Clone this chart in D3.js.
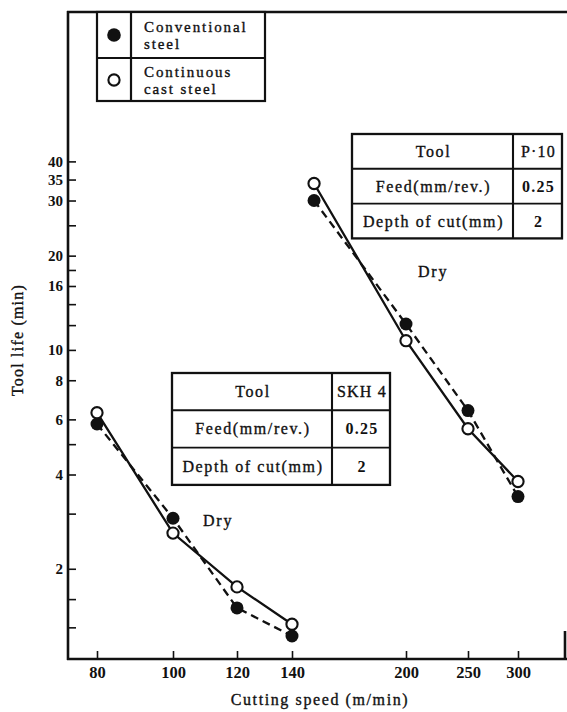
<!DOCTYPE html>
<html>
<head>
<meta charset="utf-8">
<script src="https://cdn.jsdelivr.net/npm/d3@7"></script>
<style>
  html, body { margin: 0; padding: 0; background: #fff; }
  svg { display: block; }
  text { font-family: "Liberation Serif", "DejaVu Serif", serif; fill: #111; }
  .heavy { stroke: #111; stroke-width: 0.35px; }
</style>
</head>
<body>
<svg id="chart" width="567" height="712"></svg>
<script>
// ---- data -------------------------------------------------------------
const speedTicks = [80, 100, 120, 140, 200, 250, 300];
const lifeTicksLabelled = [2, 4, 6, 8, 10, 16, 20, 30, 35, 40];
const lifeTicksMinor = [1.3, 1.6, 3, 5, 12, 14, 18, 25];

// SKH 4 high-speed steel tool
const skhSpeed = [80, 100, 120, 140];
const skhConventional = [5.8, 2.9, 1.5, 1.22];
const skhContinuous = [6.3, 2.6, 1.75, 1.33];

// P 10 carbide tool
const p10Speed = [150, 200, 250, 300];
const p10Conventional = [30, 12.1, 6.4, 3.4];
const p10Continuous = [34, 10.7, 5.6, 3.8];

const legendLabels = [["Conventional", "steel"], ["Continuous", "cast steel"]];
const skhTable = [["Tool", "SKH 4"], ["Feed(mm/rev.)", "0.25"], ["Depth of cut(mm)", "2"]];
const p10Table = [["Tool", "P\u00b710"], ["Feed(mm/rev.)", "0.25"], ["Depth of cut(mm)", "2"]];
const conditionLabel = "Dry";

// ---- layout -----------------------------------------------------------
const frame = { left: 68, right: 565, top: 12, bottom: 659 };
// positions of the speed tick marks along the printed logarithmic axis
const speedTickX = [97, 173, 237, 292, 406, 468, 518];

const svg = d3.select("#chart");

const x = d3.scaleLog().domain(speedTicks).range(speedTickX);
const y = d3.scaleLog().domain([1.03, 120]).range([frame.bottom, frame.top]);

const ink = "#111";

// ---- axes -------------------------------------------------------------
const yAxis = d3.axisLeft(y)
  .tickValues(lifeTicksLabelled.concat(lifeTicksMinor))
  .tickFormat(d => lifeTicksLabelled.includes(d) ? String(d) : "")
  .tickSizeInner(-8).tickSizeOuter(0).tickPadding(5);

const gy = svg.append("g").attr("transform", `translate(${frame.left},0)`).call(yAxis);
gy.select(".domain").remove();
gy.selectAll(".tick line").attr("stroke", ink).attr("stroke-width", 1.6);
gy.selectAll(".tick text")
  .attr("font-family", '"Liberation Serif", serif')
  .attr("font-size", 15).attr("font-weight", "bold").attr("fill", ink);

const xAxis = d3.axisBottom(x)
  .tickValues(speedTicks)
  .tickFormat(d3.format("d"))
  .tickSizeInner(-8).tickSizeOuter(0).tickPadding(7);

const gx = svg.append("g").attr("transform", `translate(0,${frame.bottom})`).call(xAxis);
gx.select(".domain").remove();
gx.selectAll(".tick line").attr("stroke", ink).attr("stroke-width", 1.6);
gx.selectAll(".tick text")
  .attr("font-family", '"Liberation Serif", serif')
  .attr("font-size", 16.5).attr("font-weight", "bold").attr("fill", ink);

// frame lines
const frameG = svg.append("g").attr("stroke", ink).attr("stroke-width", 2.6).attr("fill", "none");
frameG.append("line").attr("x1", frame.left).attr("x2", frame.left)
  .attr("y1", frame.top - 1).attr("y2", frame.bottom + 1);
frameG.append("line").attr("x1", frame.left - 1).attr("x2", frame.right + 2)
  .attr("y1", frame.bottom).attr("y2", frame.bottom);
frameG.append("line").attr("x1", frame.left - 1).attr("x2", 567)
  .attr("y1", frame.top).attr("y2", frame.top);
frameG.append("line").attr("x1", frame.right).attr("x2", frame.right)
  .attr("y1", frame.bottom - 28).attr("y2", frame.bottom);

// axis titles
svg.append("text").attr("class", "heavy")
  .attr("transform", `translate(23,340) rotate(-90)`)
  .attr("text-anchor", "middle").attr("font-size", 16)
  .attr("letter-spacing", 1.2)
  .text("Tool life (min)");

svg.append("text").attr("class", "heavy")
  .attr("x", 320).attr("y", 705)
  .attr("text-anchor", "middle").attr("font-size", 16)
  .attr("letter-spacing", 1.6)
  .text("Cutting speed (m/min)");

// ---- series -----------------------------------------------------------
const line = d3.line().x(d => x(d[0])).y(d => y(d[1]));
const zip = (a, b) => a.map((v, i) => [v, b[i]]);

const groups = [
  { speed: skhSpeed, conv: skhConventional, cont: skhContinuous },
  { speed: p10Speed, conv: p10Conventional, cont: p10Continuous }
];

const seriesG = svg.append("g");
groups.forEach(g => {
  seriesG.append("path")
    .attr("d", line(zip(g.speed, g.cont)))
    .attr("fill", "none").attr("stroke", ink).attr("stroke-width", 2.3);
  seriesG.append("path")
    .attr("d", line(zip(g.speed, g.conv)))
    .attr("fill", "none").attr("stroke", ink).attr("stroke-width", 2.3)
    .attr("stroke-dasharray", "8,5");
});

groups.forEach(g => {
  seriesG.selectAll(null).data(zip(g.speed, g.conv)).join("circle")
    .attr("cx", d => x(d[0])).attr("cy", d => y(d[1])).attr("r", 6.5)
    .attr("fill", ink);
  seriesG.selectAll(null).data(zip(g.speed, g.cont)).join("circle")
    .attr("cx", d => x(d[0])).attr("cy", d => y(d[1])).attr("r", 5.6)
    .attr("fill", "#fff").attr("stroke", ink).attr("stroke-width", 2.1);
});

// condition labels
svg.append("text").attr("class", "heavy").attr("x", 203).attr("y", 526).attr("font-size", 16)
  .attr("letter-spacing", 1.8).text(conditionLabel);
svg.append("text").attr("class", "heavy").attr("x", 418).attr("y", 277).attr("font-size", 16)
  .attr("letter-spacing", 1.8).text(conditionLabel);

// ---- legend -----------------------------------------------------------
const lg = svg.append("g");
const lgBox = { x0: 97, x1: 265, y0: 12, y1: 101, split: 131, mid: 58 };
lg.append("rect").attr("x", lgBox.x0).attr("y", lgBox.y0)
  .attr("width", lgBox.x1 - lgBox.x0).attr("height", lgBox.y1 - lgBox.y0)
  .attr("fill", "#fff").attr("stroke", ink).attr("stroke-width", 2.2);
lg.append("line").attr("x1", lgBox.split).attr("x2", lgBox.split)
  .attr("y1", lgBox.y0).attr("y2", lgBox.y1).attr("stroke", ink).attr("stroke-width", 2.2);
lg.append("line").attr("x1", lgBox.x0).attr("x2", lgBox.x1)
  .attr("y1", lgBox.mid).attr("y2", lgBox.mid).attr("stroke", ink).attr("stroke-width", 2.2);
lg.append("circle").attr("cx", 114).attr("cy", 35).attr("r", 6.8).attr("fill", ink);
lg.append("circle").attr("cx", 114).attr("cy", 80).attr("r", 5.6)
  .attr("fill", "#fff").attr("stroke", ink).attr("stroke-width", 2.1);
const lgBaselines = [[32, 48.5], [77, 93.5]];
legendLabels.forEach((pair, i) => {
  pair.forEach((s, j) => {
    lg.append("text").attr("class", "heavy").attr("x", 144).attr("y", lgBaselines[i][j])
      .attr("font-size", 15).attr("letter-spacing", 1.9).text(s);
  });
});

// ---- condition tables ---------------------------------------------------
function drawTable(rows, x0, y0, colW, rowH) {
  const t = svg.append("g");
  const w = colW[0] + colW[1], h = rowH * rows.length;
  t.append("rect").attr("x", x0).attr("y", y0).attr("width", w).attr("height", h)
    .attr("fill", "#fff").attr("stroke", ink).attr("stroke-width", 2.3);
  t.append("line").attr("x1", x0 + colW[0]).attr("x2", x0 + colW[0])
    .attr("y1", y0).attr("y2", y0 + h).attr("stroke", ink).attr("stroke-width", 2.1);
  for (let r = 1; r < rows.length; r++) {
    t.append("line").attr("x1", x0).attr("x2", x0 + w)
      .attr("y1", y0 + r * rowH).attr("y2", y0 + r * rowH)
      .attr("stroke", ink).attr("stroke-width", 1.9);
  }
  rows.forEach((row, r) => {
    const cy = y0 + r * rowH + rowH / 2 + 5.5;
    t.append("text").attr("class", "heavy").attr("x", x0 + colW[0] / 2 + 1).attr("y", cy)
      .attr("text-anchor", "middle").attr("font-size", 16).attr("letter-spacing", 1.6)
      .text(row[0]);
    t.append("text").attr("class", r === 0 ? "heavy" : null)
      .attr("x", x0 + colW[0] + colW[1] / 2 + 1).attr("y", cy)
      .attr("text-anchor", "middle").attr("font-size", 16).attr("letter-spacing", 1.2)
      .attr("font-weight", r === 0 ? "normal" : "bold")
      .text(row[1]);
  });
}

drawTable(p10Table, 352, 134, [161, 49], 34.8);
drawTable(skhTable, 172, 373, [160, 58], 37.3);
</script>
</body>
</html>
